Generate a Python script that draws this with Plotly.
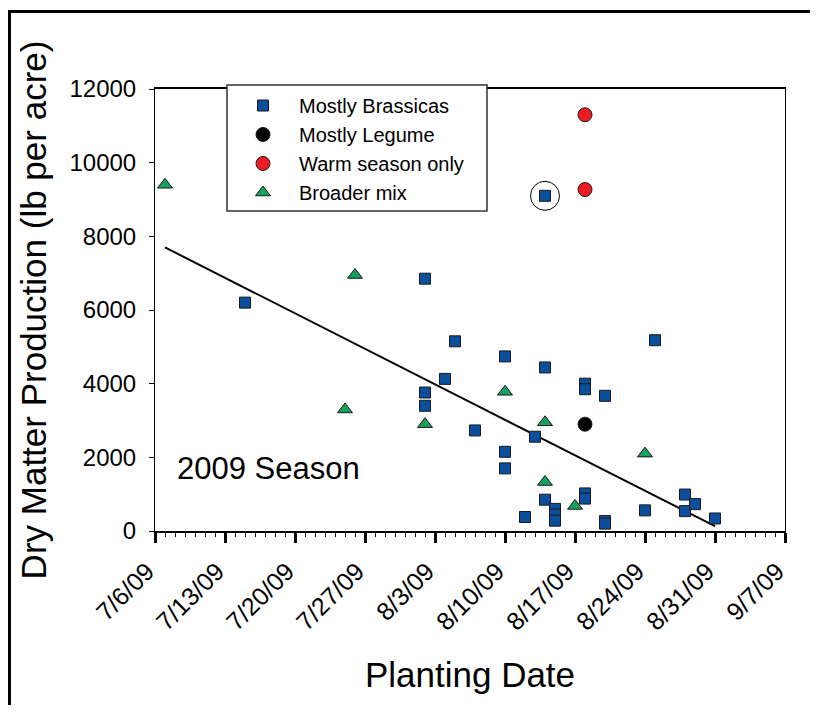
import plotly.graph_objects as go

# ---- data ----
brassica_dates = ["2009-07-15", "2009-08-02", "2009-08-02", "2009-08-02", "2009-08-04",
                  "2009-08-05", "2009-08-07", "2009-08-10", "2009-08-10", "2009-08-10",
                  "2009-08-12", "2009-08-13", "2009-08-14", "2009-08-14", "2009-08-14",
                  "2009-08-15", "2009-08-15", "2009-08-15", "2009-08-18", "2009-08-18",
                  "2009-08-18", "2009-08-18", "2009-08-20", "2009-08-20", "2009-08-20",
                  "2009-08-24", "2009-08-25", "2009-08-28", "2009-08-28", "2009-08-29",
                  "2009-08-31"]
brassica_values = [6200, 6850, 3760, 3400, 4130,
                   5150, 2730, 4740, 2150, 1700,
                   380, 2560, 9100, 4440, 850,
                   600, 450, 280, 4000, 3850,
                   1020, 880, 3670, 270, 200,
                   560, 5180, 990, 540, 730,
                   340]

legume_dates = ["2009-08-18"]
legume_values = [2900]

warm_dates = ["2009-08-18", "2009-08-18"]
warm_values = [11300, 9270]

mix_dates = ["2009-07-07", "2009-07-25", "2009-07-26", "2009-08-02", "2009-08-10",
             "2009-08-14", "2009-08-14", "2009-08-17", "2009-08-24"]
mix_values = [9400, 3300, 6950, 2900, 3780, 2950, 1330, 680, 2100]

trend_dates = ["2009-07-07", "2009-08-31"]
trend_values = [7700, 130]

highlight_dates = ["2009-08-14"]
highlight_values = [9100]

x_tick_dates = ["2009-07-06", "2009-07-13", "2009-07-20", "2009-07-27", "2009-08-03",
                "2009-08-10", "2009-08-17", "2009-08-24", "2009-08-31", "2009-09-07"]
x_tick_labels = ["7/6/09", "7/13/09", "7/20/09", "7/27/09", "8/3/09",
                 "8/10/09", "8/17/09", "8/24/09", "8/31/09", "9/7/09"]
y_tick_values = [0, 2000, 4000, 6000, 8000, 10000, 12000]
y_tick_labels = ["0", "2000", "4000", "6000", "8000", "10000", "12000"]

FONT = "Liberation Sans, Arial, sans-serif"
EDGE = dict(color="#1a1a1a", width=1)

fig = go.Figure()

fig.add_trace(go.Scatter(x=trend_dates, y=trend_values, mode="lines",
                         line=dict(color="black", width=2), showlegend=False,
                         hoverinfo="skip"))
fig.add_trace(go.Scatter(x=brassica_dates, y=brassica_values, mode="markers",
                         name="Mostly Brassicas",
                         marker=dict(symbol="square", size=11, color="#0B4F9C", line=EDGE)))
fig.add_trace(go.Scatter(x=legume_dates, y=legume_values, mode="markers",
                         name="Mostly Legume",
                         marker=dict(symbol="circle", size=14, color="black", line=EDGE)))
fig.add_trace(go.Scatter(x=warm_dates, y=warm_values, mode="markers",
                         name="Warm season only",
                         marker=dict(symbol="circle", size=14, color="#EC1C24", line=EDGE)))
fig.add_trace(go.Scatter(x=mix_dates, y=mix_values, mode="markers",
                         name="Broader mix",
                         marker=dict(symbol="triangle-up", size=13, color="#17A05D", line=EDGE)))
fig.add_trace(go.Scatter(x=highlight_dates, y=highlight_values, mode="markers",
                         showlegend=False, hoverinfo="skip",
                         marker=dict(symbol="circle-open", size=29,
                                     color="black", line=dict(color="black", width=1))))

# page has an 8px body margin; figure is sized so the page does not overflow
OFF = 8
W, H = 818 - 2 * OFF, 713 - 2 * OFF
L, T = 155 - OFF, 89 - OFF
PR, PB = 785 - OFF, 531 - OFF
R, B = W - PR, H - PB
pw, ph = PR - L, PB - T


def px_x(p):  # page pixel -> paper x
    return (p - OFF - L) / pw


def px_y(p):  # page pixel -> paper y
    return (PB - (p - OFF)) / ph


shapes = [
    # legend box
    dict(type="rect", xref="paper", yref="paper",
         x0=px_x(227), x1=px_x(487), y0=px_y(211), y1=px_y(85),
         line=dict(color="#333333", width=1.5), fillcolor="white", layer="above"),
    # outer frame (left and top)
    dict(type="path", xref="paper", yref="paper",
         path=f"M {px_x(9.5)} {px_y(760)} L {px_x(9.5)} {px_y(11.5)} L {px_x(900)} {px_y(11.5)}",
         line=dict(color="black", width=3)),
]

fig.update_layout(
    width=W, height=H,
    margin=dict(l=L, r=R, t=T, b=B, autoexpand=False),
    paper_bgcolor="white", plot_bgcolor="white",
    font=dict(family=FONT, color="black"),
    showlegend=True,
    legend=dict(x=px_x(227), y=px_y(86), xanchor="left", yanchor="top",
                bgcolor="rgba(0,0,0,0)", borderwidth=0,
                font=dict(family=FONT, size=20, color="black"),
                itemwidth=62, tracegroupgap=0),
    shapes=shapes,
    annotations=[dict(text="2009 Season", xref="paper", yref="paper",
                      x=px_x(175), y=px_y(468), xanchor="left", yanchor="middle",
                      showarrow=False, font=dict(family=FONT, size=31, color="black"))],
    xaxis=dict(
        type="date", range=["2009-07-06", "2009-09-07"],
        tickmode="array", tickvals=x_tick_dates, ticktext=x_tick_labels,
        tickangle=-45, tickfont=dict(family=FONT, size=25, color="black"),
        ticks="outside", ticklen=10, tickwidth=2.5, tickcolor="black",
        ticklabelstandoff=4, ticklabelshift=-8,
        minor=dict(tickmode="linear", tick0="2009-07-06", dtick=86400000,
                   ticks="outside", ticklen=4, tickwidth=1, tickcolor="black",
                   showgrid=False),
        showline=True, linecolor="black", linewidth=1.5, mirror=True,
        showgrid=False, zeroline=False,
        title=dict(text="Planting Date", font=dict(family=FONT, size=35, color="black"),
                   standoff=28),
    ),
    yaxis=dict(
        range=[0, 12000], tickmode="array", tickvals=y_tick_values, ticktext=y_tick_labels,
        tickfont=dict(family=FONT, size=24, color="black"),
        ticks="outside", ticklen=5, tickwidth=1, tickcolor="black",
        ticklabelstandoff=8,
        showline=True, linecolor="black", linewidth=1, mirror=True,
        showgrid=False, zeroline=False,
        title=dict(text="Dry Matter Production (lb per acre)",
                   font=dict(family=FONT, size=35, color="black"), standoff=12),
    ),
)

fig.write_html("out.html")
